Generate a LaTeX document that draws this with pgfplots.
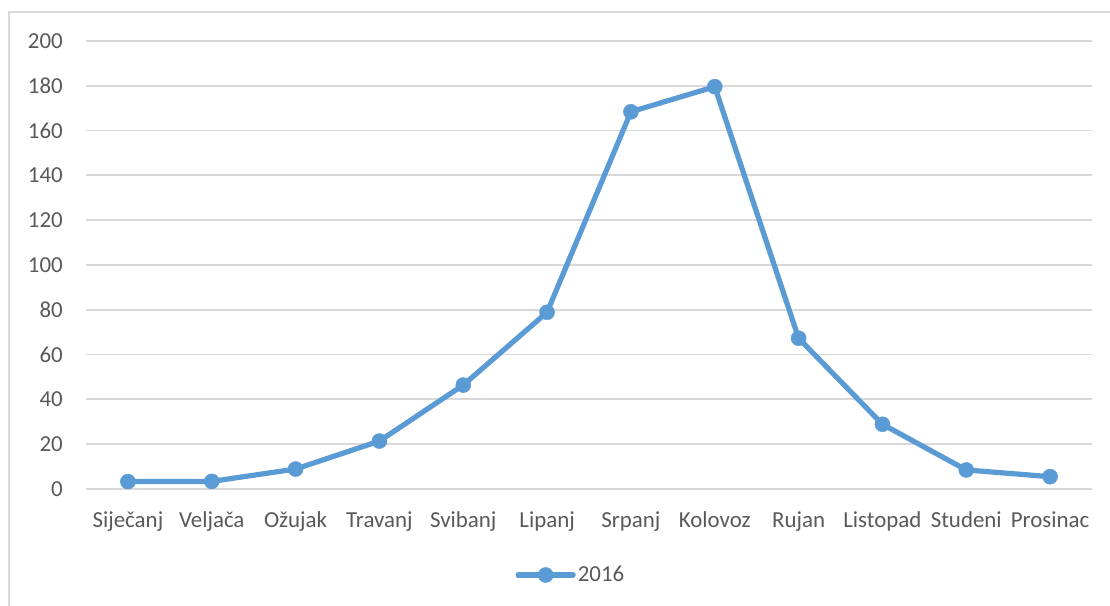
\documentclass[border=0pt]{standalone}
\usepackage{pgfplots}
\pgfplotsset{compat=1.18}
\usepackage{fontspec}
\setmainfont{Carlito}
\definecolor{ser}{HTML}{5B9BD5}
\definecolor{txt}{HTML}{595959}
\definecolor{grd}{HTML}{D9D9D9}
\begin{document}
\fontsize{23}{27}\selectfont
\begin{tikzpicture}[x=1bp,y=1bp]
\path[use as bounding box] (0,0) rectangle (1110,606);
\draw[grd, line width=1.5bp] (9,0) -- (9,594) -- (1110,594);
\begin{axis}[at={(86bp,117bp)}, anchor=south west, scale only axis,
  width=1006bp, height=448bp,
  xmin=-0.5, xmax=11.5, ymin=0, ymax=200,
  ytick={0,20,...,200}, xtick={0,...,11},
  xticklabels={Siječanj,Veljača,Ožujak,Travanj,Svibanj,Lipanj,Srpanj,Kolovoz,Rujan,Listopad,Studeni,Prosinac},
  axis line style={draw=none}, major tick length=0pt,
  ymajorgrids, grid style={grd, line width=1.8bp},
  tick label style={font=\fontsize{23}{27}\selectfont, text=txt},
  /pgf/number format/assume math mode=true,
  yticklabel style={anchor=east, inner sep=0pt, xshift=-23bp},
  xticklabel style={anchor=base, inner sep=0pt, yshift=-39bp},
  clip=false,
  legend style={draw=none, fill=none, at={(0.482,-0.192)}, anchor=center,
    font=\fontsize{23}{27}\selectfont, text=txt},
  legend image code/.code={\draw[mark repeat=2, mark phase=2, line cap=round] plot coordinates {(0bp,0bp) (27.5bp,0bp) (55bp,0bp)};},
]
\addplot[ser, line width=5.2bp, line join=round, mark=*, mark size=7.5bp,
  mark options={fill=ser, draw=ser, line width=0.5bp}]
  coordinates {(0,3.3) (1,3.4) (2,8.9) (3,21.4) (4,46.4) (5,78.9) (6,168.4) (7,179.6) (8,67.3) (9,28.9) (10,8.5) (11,5.5)};
\addlegendentry{2016}
\end{axis}
\end{tikzpicture}
\end{document}
